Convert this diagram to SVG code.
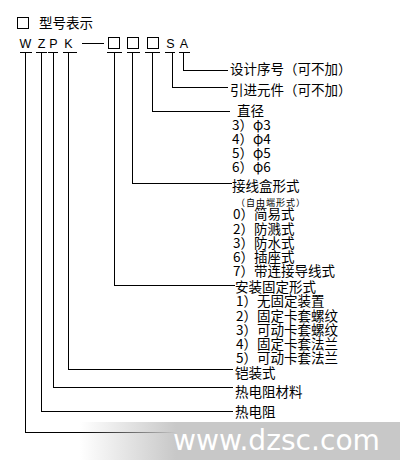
<svg xmlns="http://www.w3.org/2000/svg" width="400" height="460" viewBox="0 0 400 460">
<defs>
<style>
.cn{font-family:"Noto Sans CJK SC","Noto Sans",sans-serif;font-size:13.5px;fill:#000}
.sm{font-family:"Noto Sans CJK SC","Noto Sans",sans-serif;font-size:9px;fill:#000;letter-spacing:1px}
.lt{font-family:"Liberation Sans","DejaVu Sans",sans-serif;font-size:12.5px;fill:#000;text-anchor:middle}
.ln{stroke:#000;stroke-width:1;fill:none;shape-rendering:crispEdges}
.bx{stroke:#000;stroke-width:1;fill:#fff;shape-rendering:crispEdges}
</style>
<linearGradient id="wm" x1="0" y1="0" x2="1" y2="0" gradientUnits="objectBoundingBox">
<stop offset="0" stop-color="#c8c8c8" stop-opacity="0"/>
<stop offset="0.3" stop-color="#c8c8c8" stop-opacity="1"/>
<stop offset="1" stop-color="#c8c8c8" stop-opacity="1"/>
</linearGradient>
</defs>
<rect width="400" height="460" fill="#fff"/>

<g id="title">
<rect class="bx" x="17.5" y="17.5" width="11" height="11"/>
<text class="cn" x="39" y="28">型号表示</text>
</g>

<g id="code">
<text class="lt" x="25.5" y="48">W</text>
<text class="lt" x="41.5" y="48">Z</text>
<text class="lt" x="53.5" y="48">P</text>
<text class="lt" x="68.5" y="48">K</text>
<line class="ln" x1="82" y1="43.5" x2="104" y2="43.5"/>
<rect class="bx" x="108.5" y="37.5" width="11" height="11"/>
<rect class="bx" x="127.5" y="37.5" width="11" height="11"/>
<rect class="bx" x="147.5" y="37.5" width="11" height="11"/>
<text class="lt" x="170.5" y="48">S</text>
<text class="lt" x="184" y="48">A</text>
<path class="ln" d="M20 52.5H32M36 52.5H47M48 52.5H58M63 52.5H77M107 52.5H122M127 52.5H140M145 52.5H160M165 52.5H175M179 52.5H190"/>
</g>

<g id="connectors">
<path class="ln" d="M183.5 52V70.5H228"/>
<path class="ln" d="M172.5 52V87.5H228"/>
<path class="ln" d="M152.5 52V111.5H230"/>
<path class="ln" d="M132.5 52V183.5H232"/>
<path class="ln" d="M114.5 52V285.5H235"/>
<path class="ln" d="M68.5 52V369.5H233"/>
<path class="ln" d="M53.5 52V387.5H233"/>
<path class="ln" d="M41.5 52V411.5H233"/>
<path class="ln" d="M25.5 52V432.5H233"/>
</g>

<g id="n-design">
<text class="cn" x="230" y="74">设计序号（可不加）</text>
</g>
<g id="n-lead">
<text class="cn" x="230" y="95">引进元件（可不加）</text>
</g>
<g id="n-diameter">
<text class="cn" x="237" y="116">直径</text>
<text class="cn" x="232" y="130">3）φ3</text>
<text class="cn" x="232" y="144">4）φ4</text>
<text class="cn" x="232" y="158">5）φ5</text>
<text class="cn" x="232" y="172">6）φ6</text>
</g>
<g id="n-box">
<text class="cn" x="232" y="191">接线盒形式</text>
<text class="sm" x="236" y="206">（自由端形式）</text>
<text class="cn" x="233" y="219">0）简易式</text>
<text class="cn" x="233" y="234">2）防溅式</text>
<text class="cn" x="233" y="248">3）防水式</text>
<text class="cn" x="233" y="262">6）插座式</text>
<text class="cn" x="233" y="276">7）带连接导线式</text>
</g>
<g id="n-mount">
<text class="cn" x="235" y="292">安装固定形式</text>
<text class="cn" x="236" y="306">1）无固定装置</text>
<text class="cn" x="236" y="321">2）固定卡套螺纹</text>
<text class="cn" x="236" y="335">3）可动卡套螺纹</text>
<text class="cn" x="236" y="349">4）固定卡套法兰</text>
<text class="cn" x="236" y="363">5）可动卡套法兰</text>
</g>
<g id="n-armor">
<text class="cn" x="235" y="378">铠装式</text>
</g>
<g id="n-material">
<text class="cn" x="235" y="397">热电阻材料</text>
</g>
<g id="n-rtd">
<text class="cn" x="235" y="417">热电阻</text>
</g>

<g id="watermark">
<rect x="80" y="422" width="320" height="38" fill="url(#wm)"/>
<text x="173" y="450" font-family="DejaVu Sans,sans-serif" font-size="28" fill="#fff" textLength="207" lengthAdjust="spacingAndGlyphs">www.dzsc.com</text>
</g>
</svg>
